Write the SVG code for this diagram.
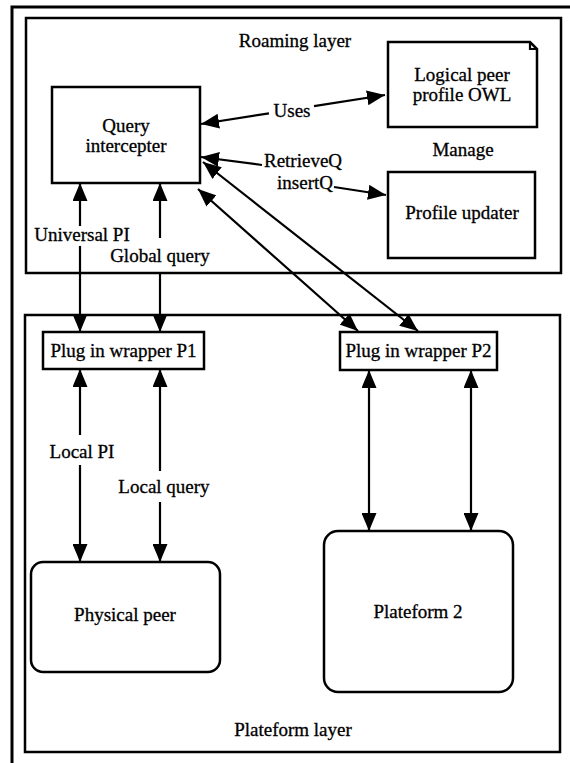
<svg xmlns="http://www.w3.org/2000/svg" width="570" height="763" viewBox="0 0 570 763">
  <style>
    .frame { fill: none; stroke: #000; stroke-width: 3; }
    .layer { fill: none; stroke: #000; stroke-width: 2.5; }
    .box { fill: #fff; stroke: #000; stroke-width: 2.5; }
    .conn { stroke: #000; stroke-width: 2.2; fill: none; }
    .lbl text { font-family: 'Liberation Serif', 'Times New Roman', Times, serif; font-size: 19px; fill: #000; stroke: #000; stroke-width: 0.3; text-anchor: middle; }
  </style>
  <defs>
    <marker id="ah" viewBox="0 0 18 15" refX="18" refY="7.5" markerWidth="18" markerHeight="15" markerUnits="userSpaceOnUse" orient="auto-start-reverse">
      <path d="M0,0 L18,7.5 L0,15 Z" fill="#000"/>
    </marker>
  </defs>

  <rect width="570" height="763" fill="#fff"/>

  <!-- outer frame (open on the right and bottom) -->
  <polyline class="frame" points="12,763 12,7 570,7"/>

  <g class="lbl">
  <!-- layers -->
  <g id="roaming-layer">
    <rect class="layer" x="26" y="18" width="535" height="255"/>
    <text x="295" y="47">Roaming layer</text>
  </g>
  <g id="plateform-layer">
    <rect class="layer" x="25" y="315" width="535" height="437"/>
    <text x="293" y="736">Plateform layer</text>
  </g>

  <!-- nodes -->
  <g id="query-intercepter">
    <rect class="box" x="52" y="87" width="148" height="96"/>
    <text x="126" y="132">Query</text>
    <text x="126" y="152">intercepter</text>
  </g>
  <g id="logical-peer-profile">
    <path class="box" d="M388,42 H530 L537,49 V127 H388 Z"/>
    <path class="conn" d="M530,42 V49 H537"/>
    <text x="462" y="81">Logical peer</text>
    <text x="462" y="101">profile OWL</text>
  </g>
  <g id="manage-label">
    <text x="463" y="156">Manage</text>
  </g>
  <g id="profile-updater">
    <rect class="box" x="388" y="172" width="147" height="86"/>
    <text x="462" y="219">Profile updater</text>
  </g>
  <g id="plugin-wrapper-p1">
    <rect class="box" x="43" y="332" width="161" height="37"/>
    <text x="123.5" y="357">Plug in wrapper P1</text>
  </g>
  <g id="plugin-wrapper-p2">
    <rect class="box" x="340" y="332" width="157" height="38"/>
    <text x="418.5" y="357">Plug in wrapper P2</text>
  </g>
  <g id="physical-peer">
    <rect class="box" x="31" y="562" width="189" height="110" rx="12"/>
    <text x="125" y="621">Physical peer</text>
  </g>
  <g id="plateform-2">
    <rect class="box" x="324" y="531" width="189" height="161" rx="14"/>
    <text x="418" y="618">Plateform 2</text>
  </g>

  <!-- connectors -->
  <g id="connectors">
    <!-- Uses -->
    <line class="conn" x1="201" y1="124" x2="269" y2="113.3" marker-start="url(#ah)"/>
    <line class="conn" x1="314" y1="106.2" x2="385" y2="95" marker-end="url(#ah)"/>
    <text x="292" y="117">Uses</text>

    <!-- RetrieveQ / insertQ -->
    <line class="conn" x1="201" y1="157" x2="262" y2="165" marker-start="url(#ah)"/>
    <line class="conn" x1="334" y1="187" x2="386" y2="195" marker-end="url(#ah)"/>
    <text x="303" y="167">RetrieveQ</text>
    <text x="305" y="189">insertQ</text>

    <!-- Universal PI -->
    <line class="conn" x1="80" y1="183" x2="80" y2="226" marker-start="url(#ah)"/>
    <line class="conn" x1="80" y1="246" x2="80" y2="332" marker-end="url(#ah)"/>
    <text x="82" y="241">Universal PI</text>

    <!-- Global query -->
    <line class="conn" x1="160" y1="183" x2="160" y2="238" marker-start="url(#ah)"/>
    <line class="conn" x1="160" y1="272" x2="160" y2="332" marker-end="url(#ah)"/>
    <text x="160" y="262">Global query</text>

    <!-- query intercepter to wrapper P2 -->
    <line class="conn" x1="198" y1="189" x2="358" y2="331" marker-start="url(#ah)" marker-end="url(#ah)"/>
    <line class="conn" x1="203" y1="162" x2="418" y2="331" marker-start="url(#ah)" marker-end="url(#ah)"/>

    <!-- Local PI -->
    <line class="conn" x1="80" y1="369" x2="80" y2="435" marker-start="url(#ah)"/>
    <line class="conn" x1="80" y1="465" x2="80" y2="562" marker-end="url(#ah)"/>
    <text x="82" y="458">Local PI</text>

    <!-- Local query -->
    <line class="conn" x1="160" y1="369" x2="160" y2="471" marker-start="url(#ah)"/>
    <line class="conn" x1="160" y1="502" x2="160" y2="562" marker-end="url(#ah)"/>
    <text x="164" y="493">Local query</text>

    <!-- wrapper P2 to plateform 2 -->
    <line class="conn" x1="369" y1="370" x2="369" y2="531" marker-start="url(#ah)" marker-end="url(#ah)"/>
    <line class="conn" x1="471" y1="370" x2="471" y2="531" marker-start="url(#ah)" marker-end="url(#ah)"/>
  </g>
  </g>
</svg>
